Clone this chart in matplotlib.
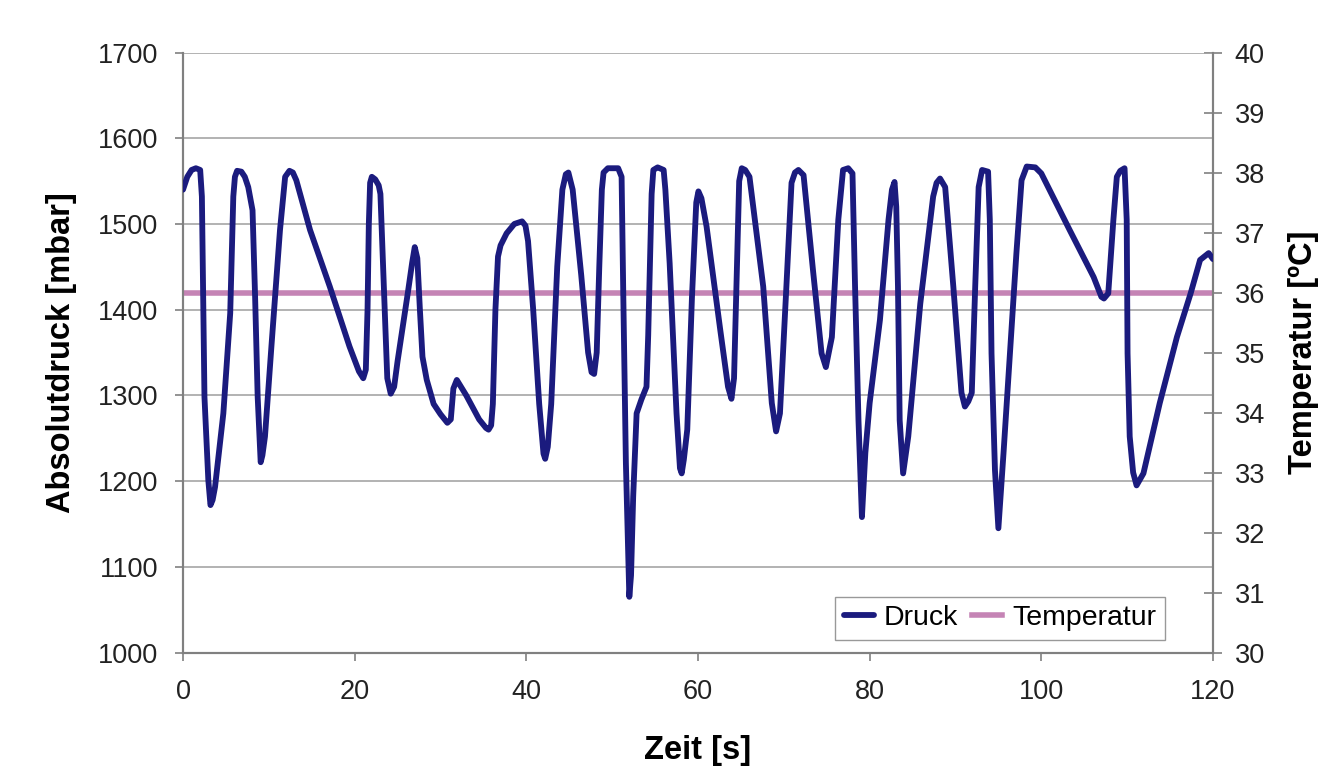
import matplotlib
matplotlib.use("Agg")
import matplotlib.pyplot as plt
from matplotlib.ticker import MultipleLocator

plt.rcParams['font.family'] = ['Liberation Sans', 'DejaVu Sans']

# (time [s], absolute pressure [mbar])
druck_punkte = [
    (0, 1540), (0.5, 1555), (1.0, 1563), (1.5, 1565), (2.0, 1563), (2.2, 1532),
    (2.35, 1415), (2.5, 1298), (2.95, 1201), (3.2, 1172), (3.45, 1178), (3.73, 1193),
    (4.7, 1279), (5.5, 1396), (5.86, 1532), (6.05, 1555), (6.3, 1562), (6.8, 1561),
    (7.2, 1555), (7.6, 1543), (8.1, 1516), (8.4, 1415), (8.7, 1298), (9.05, 1222),
    (9.25, 1230), (9.55, 1252), (10.3, 1357), (11.3, 1493), (11.9, 1555), (12.4, 1562),
    (12.8, 1560), (13.2, 1551), (14.8, 1493), (17.1, 1427), (19.4, 1357), (20.5, 1328),
    (21.0, 1320), (21.3, 1330), (21.5, 1400), (21.65, 1500), (21.8, 1548), (22.0, 1555),
    (22.4, 1552), (22.8, 1545), (23.0, 1535), (23.2, 1480), (23.5, 1400), (23.8, 1320),
    (24.2, 1302), (24.6, 1310), (25.0, 1340), (26.2, 1420), (26.7, 1455), (27.0, 1473),
    (27.3, 1460), (27.6, 1400), (27.9, 1345), (28.4, 1318), (29.2, 1290), (30.0, 1278),
    (30.8, 1268), (31.2, 1272), (31.5, 1308), (31.9, 1318), (33.0, 1300), (34.5, 1272),
    (35.3, 1262), (35.6, 1260), (35.9, 1265), (36.1, 1290), (36.4, 1400), (36.7, 1462),
    (37.0, 1475), (37.7, 1489), (38.6, 1500), (39.5, 1503), (39.9, 1498), (40.2, 1480),
    (40.8, 1400), (41.5, 1290), (42.0, 1232), (42.2, 1226), (42.5, 1240), (42.9, 1290),
    (43.6, 1450), (44.2, 1540), (44.6, 1558), (44.9, 1560), (45.4, 1540), (46.4, 1440),
    (47.2, 1350), (47.6, 1327), (47.9, 1325), (48.2, 1350), (48.5, 1450), (48.8, 1540),
    (49.0, 1560), (49.5, 1565), (50.7, 1565), (51.1, 1555), (51.3, 1415), (51.6, 1221),
    (51.9, 1104), (52.0, 1065), (52.2, 1090), (52.45, 1182), (52.85, 1279), (53.4, 1295),
    (54.0, 1310), (54.2, 1370), (54.4, 1454), (54.6, 1535), (54.8, 1563), (55.3, 1566),
    (56.0, 1563), (56.2, 1540), (56.7, 1454), (57.5, 1279), (57.9, 1215), (58.1, 1209),
    (58.35, 1225), (58.75, 1260), (59.3, 1415), (59.8, 1525), (60.05, 1538), (60.4, 1530),
    (61.0, 1497), (62.6, 1376), (63.5, 1310), (63.9, 1296), (64.2, 1320), (64.5, 1434),
    (64.8, 1550), (65.1, 1565), (65.5, 1563), (66.0, 1555), (67.6, 1427), (68.6, 1291),
    (69.1, 1258), (69.55, 1279), (70.3, 1427), (70.9, 1548), (71.3, 1560), (71.7, 1563),
    (72.3, 1557), (73.4, 1446), (74.4, 1349), (74.9, 1333), (75.6, 1368), (76.35, 1505),
    (76.9, 1563), (77.5, 1565), (78.0, 1559), (78.3, 1427), (78.7, 1271), (79.1, 1158),
    (79.5, 1233), (80.0, 1291), (81.2, 1388), (82.2, 1505), (82.6, 1540), (82.9, 1549),
    (83.1, 1520), (83.3, 1427), (83.5, 1271), (83.9, 1209), (84.5, 1252), (85.9, 1407),
    (87.4, 1532), (87.8, 1548), (88.2, 1553), (88.8, 1543), (89.75, 1427), (90.7, 1303),
    (91.1, 1287), (91.5, 1293), (91.9, 1303), (92.3, 1427), (92.7, 1543), (93.1, 1563),
    (93.8, 1561), (94.0, 1505), (94.2, 1349), (94.6, 1213), (95.0, 1145), (95.6, 1233),
    (96.35, 1349), (97.1, 1466), (97.7, 1551), (98.3, 1567), (99.3, 1566), (100.0, 1559),
    (103.3, 1493), (106.1, 1438), (107.0, 1415), (107.3, 1413), (107.8, 1419), (108.4, 1505),
    (108.8, 1555), (109.2, 1562), (109.7, 1565), (109.95, 1505), (110.05, 1349), (110.3, 1252),
    (110.7, 1210), (111.1, 1195), (111.9, 1209), (113.8, 1291), (115.8, 1368), (117.4, 1419),
    (118.5, 1458), (119.5, 1466), (120.0, 1459),
]
zeit = [p[0] for p in druck_punkte]
druck = [p[1] for p in druck_punkte]

temp_zeit = [0, 120]
temperatur = [36, 36]

fig = plt.figure(figsize=(13.3, 7.84), dpi=100)
ax = fig.add_axes([0.1376, 0.1677, 0.7744, 0.7653])
ax2 = ax.twinx()

grid_col = '#a6a6a6'
ax.yaxis.grid(True, color=grid_col, linewidth=1.2)
ax.set_axisbelow(True)

l1, = ax.plot(zeit, druck, color='#1b1b7e', linewidth=4.2, solid_joinstyle='round',
              solid_capstyle='round', label='Druck', zorder=3)
l2, = ax2.plot(temp_zeit, temperatur, color='#c584b5', linewidth=4.0, label='Temperatur')
ax.set_zorder(ax2.get_zorder() + 1)
ax.patch.set_visible(False)

ax.set_xlim(0, 120)
ax.set_ylim(1000, 1700)
ax2.set_ylim(30, 40)
ax.xaxis.set_major_locator(MultipleLocator(20))
ax.yaxis.set_major_locator(MultipleLocator(100))
ax2.yaxis.set_major_locator(MultipleLocator(1))

for a in (ax, ax2):
    for s in a.spines.values():
        s.set_color('#808080')
        s.set_linewidth(1.5)
    a.spines['top'].set_visible(False)
ax.tick_params(axis='y', labelsize=19.5, color='#808080', width=1.2, length=6,
               labelcolor='#222222', pad=12)
ax.tick_params(axis='x', labelsize=19.5, color='#808080', width=1.2, length=6,
               labelcolor='#222222', pad=13)
ax2.tick_params(axis='y', labelsize=19.5, color='#808080', width=1.2, length=13,
                direction='inout', labelcolor='#222222', pad=9)

ax.set_xlabel('Zeit [s]', fontsize=23.5, fontweight='bold')
ax.set_ylabel('Absolutdruck [mbar]', fontsize=23.5, fontweight='bold')
ax2.set_ylabel('Temperatur [ºC]', fontsize=23.5, fontweight='bold')
ax.xaxis.set_label_coords(0.5, -0.1625)
ax.yaxis.set_label_coords(-0.118, 0.5)
ax2.yaxis.set_label_coords(1.0875, 0.5)
ax.xaxis.label.set_va('center')
ax.yaxis.label.set_va('center')
ax2.yaxis.label.set_va('center')

leg = ax.legend(handles=[l1, l2], loc='lower right', ncol=2, fontsize=20.5,
                frameon=True, fancybox=False, edgecolor='#808080',
                handlelength=1.05, handletextpad=0.35, columnspacing=0.5,
                borderpad=0.3, borderaxespad=0, bbox_to_anchor=(0.953, 0.021))
leg.get_frame().set_linewidth(1.0)

fig.savefig('out.png', dpi=100, facecolor='white')
